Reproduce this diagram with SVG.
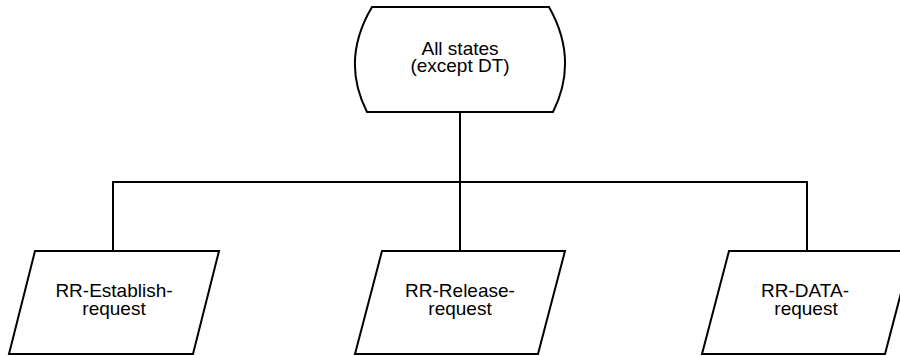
<svg xmlns="http://www.w3.org/2000/svg" width="900" height="356" viewBox="0 0 900 356">
<style>
.shape{fill:#fff;stroke:#000;stroke-width:2;stroke-linejoin:miter}
.conn{fill:none;stroke:#000;stroke-width:2}
text{font-family:"Liberation Sans",Arial,sans-serif;font-size:19px;fill:#000;text-anchor:middle}
</style>
<rect width="900" height="356" fill="#fff"/>
<g id="connectors">
<path class="conn" d="M460,112 V182"/>
<path class="conn" d="M113,182 H807"/>
<path class="conn" d="M113,181 V251"/>
<path class="conn" d="M460,182 V251"/>
<path class="conn" d="M807,181 V251"/>
</g>
<g id="state-all">
<path class="shape" d="M372,7 L549,7 Q579,60 553,112 L367,112 Q340.5,60 372,7 Z"/>
<text x="460" y="55">All states</text>
<text x="460" y="72">(except DT)</text>
</g>
<g id="rr-establish">
<path class="shape" d="M35,251 L219,251 L193,354 L9,354 Z"/>
<text x="114" y="297">RR-Establish-</text>
<text x="114" y="315">request</text>
</g>
<g id="rr-release">
<path class="shape" d="M382,251 L565,251 L538,354 L355,354 Z"/>
<text x="460" y="297">RR-Release-</text>
<text x="460" y="315">request</text>
</g>
<g id="rr-data">
<path class="shape" d="M729,251 L912,251 L885,354 L702,354 Z"/>
<text x="805" y="297">RR-DATA-</text>
<text x="806" y="315">request</text>
</g>
</svg>
